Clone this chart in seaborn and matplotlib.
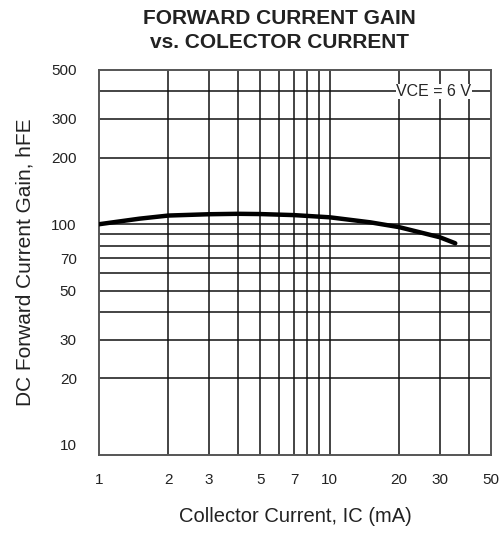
import seaborn as sns
import matplotlib.pyplot as plt
import pandas as pd

# curve
collector_current = [1, 1.5, 2, 3, 4, 5, 7, 10, 15, 20, 30, 35]
current_gain = [100, 106, 109.5, 111, 111.5, 111.2, 110, 107.5, 102, 97, 87.3, 82]

x_ticks = [1, 2, 3, 5, 7, 10, 20, 30, 50]
y_ticks = [10, 20, 30, 50, 70, 100, 200, 300, 500]
x_grid = [2, 3, 4, 5, 6, 7, 8, 9, 10, 20, 30, 40]
y_grid = [20, 30, 40, 50, 60, 70, 80, 90, 100, 200, 300, 400]

df = pd.DataFrame({"ic": collector_current, "hfe": current_gain})

sns.set_theme(style="white")
plt.rcParams['font.family'] = ['Liberation Sans', 'DejaVu Sans']

fig = plt.figure(figsize=(5, 5.33), dpi=100)
ax = fig.add_axes([0.198, 0.1463, 0.784, 0.7224])

# grid drawn by hand so the 10 line is left out like the original
for gx in x_grid:
    ax.axvline(gx, color="#111111", lw=1.1, zorder=1)
for gy in y_grid:
    ax.axhline(gy, color="#111111", lw=1.1, zorder=1)

sns.lineplot(data=df, x="ic", y="hfe", color="black", linewidth=3.2, ax=ax, zorder=3)

ax.set_xscale("log")
ax.set_yscale("log")
ax.set_xlim(1, 50)
ax.set_ylim(9.0, 500)
ax.set_xticks(x_ticks)
ax.set_xticklabels([str(t) for t in x_ticks])
ax.set_yticks(y_ticks)
ax.set_yticklabels([str(t) for t in y_ticks])
ax.minorticks_off()
ax.tick_params(axis="both", length=0, labelsize=11, colors="#222222")
ax.tick_params(axis="x", pad=13)
ax.tick_params(axis="y", pad=16)

for s in ax.spines.values():
    s.set_color("#555555")
    s.set_linewidth(1.4)

ax.set_xlabel("Collector Current, IC (mA)", fontsize=14.5, labelpad=14, color="#222222")
ax.set_ylabel("DC Forward Current Gain, hFE", fontsize=15, labelpad=12, color="#222222")

ax.text(28.3, 400, "VCE = 6 V", fontsize=11.5, ha="center", va="center", zorder=4,
        bbox=dict(facecolor="white", edgecolor="none", pad=0.2))

fig.text(0.558, 0.9425, "FORWARD CURRENT GAIN\nvs. COLECTOR CURRENT", fontsize=15,
         fontweight="bold", ha="center", va="center", linespacing=1.35, color="#222222")

fig.savefig("out.png", dpi=100)
